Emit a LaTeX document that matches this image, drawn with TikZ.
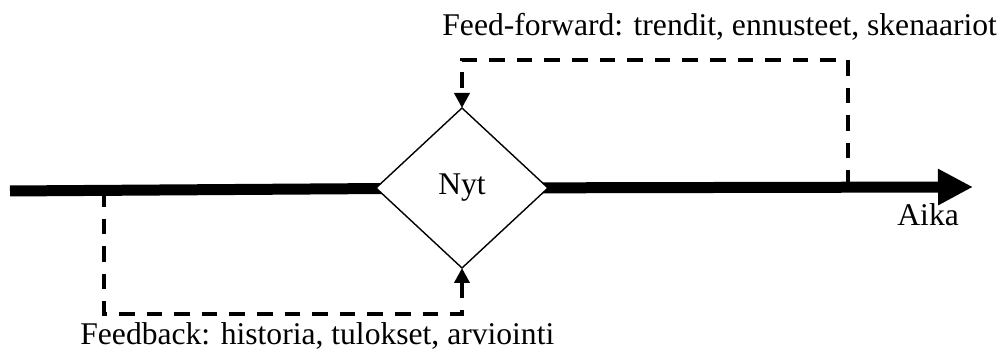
\documentclass[tikz,border=0pt]{standalone}
\usepackage{fontspec}
\setmainfont{Liberation Serif}
\usetikzlibrary{shapes.geometric,arrows.meta}
\begin{document}
\begin{tikzpicture}[x=0.5pt,y=-0.5pt,
  mainline/.style={line width=5.5pt},
  dashline/.style={line width=1.8pt,dash pattern=on 7.8pt off 6pt,-{Triangle[length=7.5pt,width=7.5pt]}},
  lbl/.style={font=\fontsize{15.8}{18}\selectfont,inner sep=0pt,anchor=base west},
  now/.style={diamond,draw,line width=0.7pt,fill=white,minimum width=86pt,minimum height=80pt,inner sep=0pt,outer sep=0pt,font=\fontsize{15.8}{18}\selectfont}]
\useasboundingbox (0,0) rectangle (1003,351);
\coordinate (start) at (10,191);
\coordinate (mid) at (462,188);
\coordinate (tip) at (973,187);
\coordinate (ffbase) at (848,186);
\coordinate (fbbase) at (104,191);
% main time axis (runs under the diamond)
\draw[mainline] (start) -- (mid);
\draw[mainline,-{Triangle[length=17.5pt,width=17pt]}] (mid) -- (tip);
\node[now] (nyt) at (mid) {Nyt};
% dashed feed lines
\draw[dashline] (ffbase) -- (848,60) -| (nyt.north);
\draw[dashline] (fbbase) -- (104,314) -| (nyt.south);
\node[lbl] (ff) at (442,36) {Feed-forward: trendit, ennusteet, skenaariot};
\node[lbl] (fb) at (80,345) {Feedback: historia, tulokset, arviointi};
\node[lbl] (aika) at (897,226) {Aika};
\end{tikzpicture}
\end{document}
